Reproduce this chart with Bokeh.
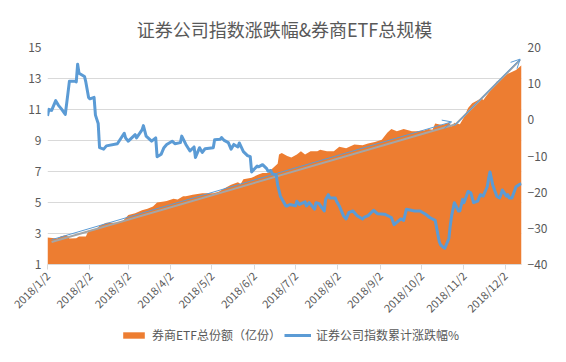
import math
import pandas as pd
from bokeh.plotting import figure
from bokeh.layouts import column
from bokeh.models import (ColumnDataSource, Range1d, LinearAxis, FixedTicker,
                          CustomJSTickFormatter, Legend, LegendItem, Arrow, OpenHead)
from bokeh.embed import file_html
from bokeh.resources import INLINE

FONT = "Noto Sans CJK SC"
TEXT = "#595959"
ORANGE = "#ED7D31"
BLUE = "#5B9BD5"
GRID = "#D9D9D9"
TREND = "#A5A5A5"

title_text = "证券公司指数涨跌幅&券商ETF总规模"
etf_label = "券商ETF总份额（亿份）"
idx_label = "证券公司指数累计涨跌幅%"

# 券商ETF总份额（亿份） - left axis
etf_dates = ["2018-01-02", "2018-01-09", "2018-01-12", "2018-01-16", "2018-01-18", "2018-01-23",
             "2018-01-25", "2018-01-30", "2018-02-01", "2018-02-07", "2018-02-09", "2018-02-14",
             "2018-02-21", "2018-02-26", "2018-03-02", "2018-03-07", "2018-03-12", "2018-03-16",
             "2018-03-20", "2018-03-23", "2018-03-28", "2018-03-30", "2018-04-04", "2018-04-07",
             "2018-04-11", "2018-04-13", "2018-04-18", "2018-04-25", "2018-05-03", "2018-05-07",
             "2018-05-11", "2018-05-16", "2018-05-21", "2018-05-23", "2018-05-25", "2018-05-31",
             "2018-06-05", "2018-06-08", "2018-06-12", "2018-06-14", "2018-06-19", "2018-06-20",
             "2018-06-22", "2018-06-26", "2018-06-29", "2018-07-03", "2018-07-06", "2018-07-09",
             "2018-07-13", "2018-07-18", "2018-07-20", "2018-07-25", "2018-07-30", "2018-08-03",
             "2018-08-08", "2018-08-14", "2018-08-20", "2018-08-24", "2018-08-29", "2018-09-03",
             "2018-09-07", "2018-09-10", "2018-09-14", "2018-09-19", "2018-09-25", "2018-09-28",
             "2018-10-04", "2018-10-07", "2018-10-10", "2018-10-12", "2018-10-17", "2018-10-22",
             "2018-10-24", "2018-10-26", "2018-10-30", "2018-11-02", "2018-11-05", "2018-11-08",
             "2018-11-12", "2018-11-15", "2018-11-16", "2018-11-21", "2018-11-26", "2018-11-29",
             "2018-12-04", "2018-12-10", "2018-12-14"]
etf_values = [2.75, 2.68, 2.83, 2.9, 2.68, 2.7,
              2.8, 2.8, 3.2, 3.3, 3.5, 3.7,
              3.7, 3.8, 4.2, 4.3, 4.5, 4.6,
              4.75, 5.0, 5.06, 5.1, 5.25, 5.2,
              5.4, 5.4, 5.5, 5.6, 5.6, 5.7,
              5.9, 6.15, 6.3, 6.2, 6.5, 6.6,
              6.8, 6.9, 6.9, 7.1, 7.5, 8.1,
              8.2, 8.0, 7.9, 8.1, 8.3, 8.1,
              8.3, 8.3, 8.4, 8.3, 8.3, 8.6,
              8.5, 8.75, 8.7, 8.8, 8.9, 9.05,
              9.5, 9.75, 9.6, 9.75, 9.6, 9.6,
              9.65, 9.75, 9.7, 10.1, 10.0, 10.15,
              9.9, 10.15, 10.05, 10.5, 11.1, 11.4,
              11.6, 11.75, 11.6, 12.2, 12.8, 12.95,
              13.3, 13.55, 13.85]

# 证券公司指数累计涨跌幅% - right axis
idx_dates = ["2018-01-02", "2018-01-03", "2018-01-05", "2018-01-08", "2018-01-10", "2018-01-12",
             "2018-01-15", "2018-01-17", "2018-01-18", "2018-01-22", "2018-01-23", "2018-01-24",
             "2018-01-25", "2018-01-29", "2018-01-30", "2018-02-01", "2018-02-02", "2018-02-05",
             "2018-02-06", "2018-02-08", "2018-02-09", "2018-02-12", "2018-02-14", "2018-02-22",
             "2018-02-27", "2018-02-28", "2018-03-02", "2018-03-07", "2018-03-08", "2018-03-12",
             "2018-03-13", "2018-03-15", "2018-03-19", "2018-03-22", "2018-03-23", "2018-03-26",
             "2018-03-28", "2018-03-30", "2018-04-03", "2018-04-05", "2018-04-09", "2018-04-10",
             "2018-04-13", "2018-04-16", "2018-04-19", "2018-04-20", "2018-04-23", "2018-04-25",
             "2018-04-27", "2018-05-03", "2018-05-04", "2018-05-08", "2018-05-09", "2018-05-11",
             "2018-05-14", "2018-05-16", "2018-05-18", "2018-05-21", "2018-05-22", "2018-05-25",
             "2018-05-28", "2018-05-30", "2018-05-31", "2018-06-04", "2018-06-05", "2018-06-08",
             "2018-06-11", "2018-06-12", "2018-06-14", "2018-06-15", "2018-06-18", "2018-06-19",
             "2018-06-21", "2018-06-25", "2018-06-26", "2018-06-28", "2018-07-02", "2018-07-03",
             "2018-07-05", "2018-07-09", "2018-07-10", "2018-07-12", "2018-07-16", "2018-07-17",
             "2018-07-19", "2018-07-23", "2018-07-24", "2018-07-26", "2018-07-27", "2018-07-31",
             "2018-08-01", "2018-08-03", "2018-08-06", "2018-08-08", "2018-08-10", "2018-08-13",
             "2018-08-16", "2018-08-20", "2018-08-21", "2018-08-24", "2018-08-28", "2018-08-31",
             "2018-09-05", "2018-09-10", "2018-09-12", "2018-09-17", "2018-09-19", "2018-09-21",
             "2018-09-27", "2018-10-01", "2018-10-05", "2018-10-08", "2018-10-12", "2018-10-15",
             "2018-10-16", "2018-10-18", "2018-10-19", "2018-10-22", "2018-10-23", "2018-10-24",
             "2018-10-26", "2018-10-29", "2018-10-30", "2018-11-01", "2018-11-02", "2018-11-05",
             "2018-11-07", "2018-11-09", "2018-11-12", "2018-11-14", "2018-11-16", "2018-11-19",
             "2018-11-20", "2018-11-21", "2018-11-23", "2018-11-26", "2018-11-28", "2018-11-29",
             "2018-11-30", "2018-12-03", "2018-12-04", "2018-12-05", "2018-12-07", "2018-12-10",
             "2018-12-12", "2018-12-14"]
idx_values = [1.1, 2.9, 2.6, 5.3, 4.0, 3.1,
              1.5, 7.6, 10.7, 10.7, 10.5, 15.4,
              12.9, 12.0, 10.4, 6.2, 5.8, 6.2,
              1.3, -1.0, -7.7, -8.1, -7.2, -6.6,
              -3.7, -5.0, -5.9, -4.1, -5.0, -2.8,
              -1.6, -4.5, -5.9, -5.0, -10.2, -9.5,
              -7.7, -6.8, -5.9, -6.6, -6.3, -4.5,
              -6.8, -8.6, -7.5, -10.4, -7.7, -9.0,
              -8.0, -7.7, -5.5, -5.4, -4.9, -5.7,
              -6.3, -8.1, -6.8, -7.5, -6.4, -8.8,
              -9.9, -10.2, -14.4, -12.8, -13.0, -12.4,
              -13.5, -14.2, -14.0, -14.9, -15.3, -18.0,
              -21.1, -23.8, -23.8, -23.4, -23.8, -22.5,
              -23.4, -22.7, -23.8, -22.9, -24.7, -22.9,
              -23.1, -25.2, -22.0, -20.7, -21.6, -21.6,
              -22.5, -23.8, -26.5, -27.4, -25.6, -25.2,
              -26.5, -27.4, -27.0, -26.5, -25.0, -26.0,
              -26.1, -27.0, -29.0, -27.4, -27.8, -24.7,
              -25.2, -25.2, -26.1, -27.0, -27.8, -33.7,
              -34.6, -35.3, -35.5, -32.8, -29.2, -26.5,
              -22.9, -25.2, -25.2, -22.0, -22.9, -19.8,
              -20.2, -22.9, -22.5, -20.7, -21.1, -18.5,
              -16.2, -14.4, -18.0, -21.1, -21.6, -20.7,
              -19.4, -21.1, -20.7, -21.6, -21.6, -18.5,
              -18.0, -17.6]

left_ticks = [1, 3, 5, 7, 9, 11, 13, 15]
right_ticks = [-40, -30, -20, -10, 0, 10, 20]
month_ticks = ["2018-01-02", "2018-02-02", "2018-03-02", "2018-04-02", "2018-05-02", "2018-06-02",
               "2018-07-02", "2018-08-02", "2018-09-02", "2018-10-02", "2018-11-02", "2018-12-02"]

# trend line (gray) and hand-drawn arrows (blue), left-axis units
trend_dates = ["2018-01-05", "2018-10-27", "2018-12-13"]
trend_values = [2.45, 10.05, 14.2]
arrow_start_dates = ["2018-01-05", "2018-10-26"]
arrow_start_values = [2.6, 9.95]
arrow_end_dates = ["2018-10-24", "2018-12-13"]
arrow_end_values = [10.2, 14.25]

etf_src = ColumnDataSource(dict(date=pd.to_datetime(etf_dates), v=etf_values))
idx_src = ColumnDataSource(dict(date=pd.to_datetime(idx_dates), v=idx_values))
trend_src = ColumnDataSource(dict(date=pd.to_datetime(trend_dates), v=trend_values))
arrow_src = ColumnDataSource(dict(x0=pd.to_datetime(arrow_start_dates), y0=arrow_start_values,
                                  x1=pd.to_datetime(arrow_end_dates), y1=arrow_end_values))

p = figure(width=550, height=324, x_axis_type="datetime",
           x_range=Range1d(pd.Timestamp(etf_dates[0]), pd.Timestamp(etf_dates[-1])),
           y_range=Range1d(left_ticks[0], left_ticks[-1]),
           output_backend="svg", toolbar_location=None,
           min_border_left=47, min_border_right=24, min_border_top=47, min_border_bottom=56,
           title=title_text)
p.extra_y_ranges = {"pct": Range1d(right_ticks[0], right_ticks[-1])}
p.add_layout(LinearAxis(y_range_name="pct", ticker=FixedTicker(ticks=right_ticks)), "right")

p.outline_line_color = None
p.background_fill_color = "white"
p.border_fill_color = "white"

p.title.text_font = FONT
p.title.text_font_size = "18px"
p.title.text_font_style = "normal"
p.title.text_color = TEXT
p.title.align = "center"
p.title.vertical_align = "middle"
p.title.standoff = 10

p.varea(x="date", y1=0, y2="v", source=etf_src, fill_color=ORANGE, fill_alpha=1.0)
p.line(x="date", y="v", source=trend_src, line_color=TREND, line_width=2)
p.add_layout(Arrow(end=OpenHead(size=9, line_color=BLUE, line_width=1),
                   x_start="x0", y_start="y0", x_end="x1", y_end="y1", source=arrow_src,
                   line_color=BLUE, line_width=1))
p.line(x="date", y="v", source=idx_src, y_range_name="pct",
       line_color=BLUE, line_width=3, line_join="round")

# axes
p.left[0].ticker = FixedTicker(ticks=left_ticks)
for ax in p.yaxis:
    ax.axis_line_color = None
    ax.major_tick_line_color = None
    ax.major_tick_out = 0
    ax.major_tick_in = 0
    ax.minor_tick_line_color = None
    ax.major_label_text_font = FONT
    ax.major_label_text_font_size = "12px"
    ax.major_label_text_color = TEXT
    ax.major_label_standoff = 6

xa = p.xaxis[0]
xa.ticker = FixedTicker(ticks=[int(pd.Timestamp(d).value // 10**6) for d in month_ticks])
xa.formatter = CustomJSTickFormatter(code="""
const d = new Date(tick);
return d.getUTCFullYear() + "/" + (d.getUTCMonth() + 1) + "/" + d.getUTCDate();
""")
xa.major_label_orientation = math.pi / 4
xa.axis_line_color = GRID
xa.major_tick_line_color = GRID
xa.major_tick_in = 0
xa.major_tick_out = 5
xa.minor_tick_line_color = None
xa.major_label_text_font = FONT
xa.major_label_text_font_size = "11px"
xa.major_label_text_color = TEXT
xa.major_label_standoff = 4

p.xgrid.grid_line_color = None
p.ygrid.grid_line_color = GRID
p.ygrid[0].ticker = FixedTicker(ticks=left_ticks)

# legend strip below the chart; swatch renderers hold data outside the visible range
lf = figure(width=550, height=22, x_range=Range1d(0, 1), y_range=Range1d(0, 1),
            x_axis_location=None, y_axis_location=None,
            output_backend="svg", toolbar_location=None,
            min_border_left=0, min_border_right=0, min_border_top=0, min_border_bottom=0)
lf.grid.visible = False
lf.outline_line_color = None
lf.background_fill_color = "white"
lf.border_fill_color = "white"
sw_area = lf.varea(x=[5, 6], y1=[5, 5], y2=[6, 6], fill_color=ORANGE, fill_alpha=1.0)
sw_line = lf.line(x=[5, 6], y=[5, 5], line_color=BLUE, line_width=3)
legend = Legend(items=[LegendItem(label=etf_label, renderers=[sw_area]),
                       LegendItem(label=idx_label, renderers=[sw_line])],
                orientation="horizontal", location=(73, 3),
                border_line_color=None, background_fill_alpha=0,
                padding=0, margin=0, spacing=3, label_standoff=5,
                glyph_width=27, glyph_height=8,
                label_text_font=FONT, label_text_font_size="12px", label_text_color=TEXT)
lf.add_layout(legend)

open("out.html", "w").write(file_html(column(p, lf, spacing=0), INLINE))
